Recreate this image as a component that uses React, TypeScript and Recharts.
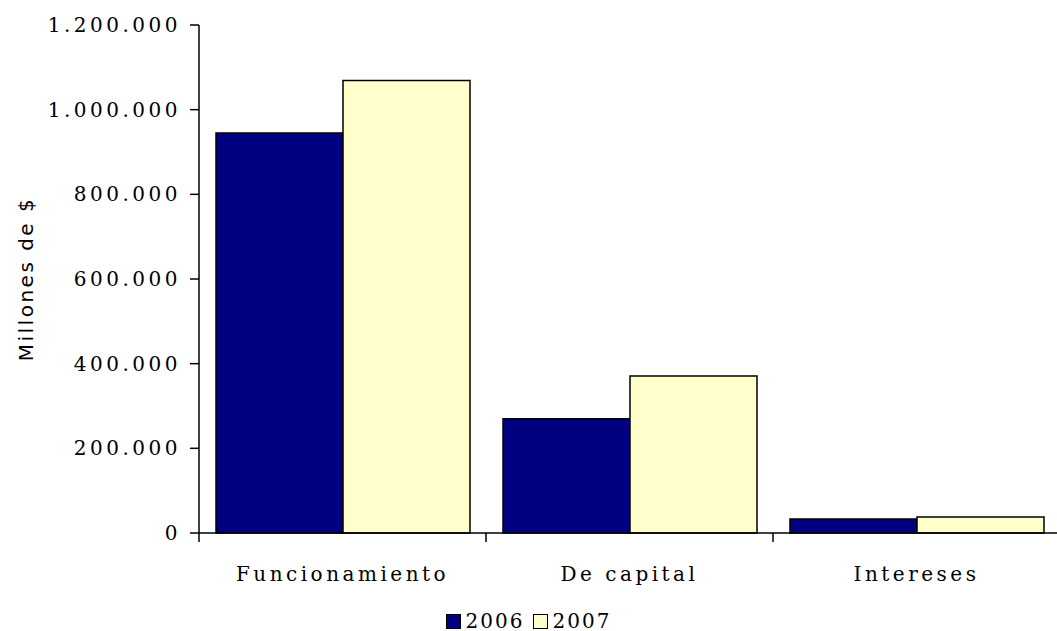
import { Bar, BarChart, XAxis, YAxis } from "recharts";

const categories = ["Funcionamiento", "De capital", "Intereses"];
const values2006 = [945000, 270000, 33000];
const values2007 = [1069000, 371000, 38000];
const yTicks = [0, 200000, 400000, 600000, 800000, 1000000, 1200000];

const data = categories.map((name, i) => ({ name, y2006: values2006[i], y2007: values2007[i] }));

const SERIF = "'DejaVu Serif', serif";
const NAVY = "#000080";
const CREAM = "#FFFFCC";

const W = 1057;
const H = 631;
const LEFT = 199;
const RIGHT_MARGIN = -3;
const BAND = (W - RIGHT_MARGIN - LEFT) / categories.length;

const fmt = (v: number) => v.toString().replace(/\B(?=(\d{3})+(?!\d))/g, ".");

function LegendBox() {
  const items = [
    { label: "2006", color: NAVY },
    { label: "2007", color: CREAM },
  ];
  return (
    <div
      style={{
        position: "absolute",
        top: 608,
        left: 0,
        width: W,
        display: "flex",
        justifyContent: "center",
        gap: 8,
        fontFamily: SERIF,
        fontSize: 20,
        letterSpacing: 2,
        color: "#000",
        lineHeight: "26px",
      }}
    >
      {items.map((it) => (
        <span key={it.label} style={{ display: "flex", alignItems: "center", gap: 5 }}>
          <span style={{ width: 13, height: 13, background: it.color, border: "1px solid #000", display: "inline-block" }} />
          {it.label}
        </span>
      ))}
    </div>
  );
}

// category label plus tick marks on the band boundaries
const CategoryTick = (props: any) => {
  const { x, y, payload, index } = props;
  const axisY = y - 34;
  const last = index === categories.length - 1;
  return (
    <g>
      <line x1={x - BAND / 2} x2={x - BAND / 2} y1={axisY} y2={axisY + 9} stroke="#000" strokeWidth={1.5} />
      {last && <line x1={x + BAND / 2} x2={x + BAND / 2} y1={axisY} y2={axisY + 9} stroke="#000" strokeWidth={1.5} />}
      <text x={x} y={y} dy="0.71em" textAnchor="middle" fontFamily={SERIF} fontSize={20} letterSpacing={3.5} fill="#000">
        {payload.value}
      </text>
    </g>
  );
};

export default function App() {
  return (
    <div style={{ position: "absolute", left: 0, top: 0, width: W, height: H, background: "#fff" }}>
      <BarChart
        width={W}
        height={H}
        data={data}
        margin={{ top: 25, right: RIGHT_MARGIN, left: 0, bottom: 0 }}
        barCategoryGap={17}
        barGap={0}
      >
        <XAxis
          dataKey="name"
          height={98}
          axisLine={{ stroke: "#000", strokeWidth: 1.5 }}
          tickLine={false}
          tickSize={0}
          tickMargin={34}
          tick={CategoryTick}
        />
        <YAxis
          width={LEFT}
          domain={[0, 1200000]}
          ticks={yTicks}
          tickFormatter={fmt}
          axisLine={{ stroke: "#000", strokeWidth: 1.5 }}
          tickLine={{ stroke: "#000", strokeWidth: 1.5 }}
          tickSize={9}
          tickMargin={9}
          tick={{ fontFamily: SERIF, fontSize: 20, fill: "#000", letterSpacing: 3.5 }}
          label={{
            value: "Millones de $",
            angle: -90,
            position: "insideLeft",
            offset: 26,
            style: { fontFamily: "'DejaVu Sans', sans-serif", fontSize: 20, fill: "#000", textAnchor: "middle", letterSpacing: 2.5 },
          }}
        />
        <Bar dataKey="y2006" name="2006" fill={NAVY} stroke="#000" strokeWidth={1.5} isAnimationActive={false} />
        <Bar dataKey="y2007" name="2007" fill={CREAM} stroke="#000" strokeWidth={1.5} isAnimationActive={false} />
      </BarChart>
      <LegendBox />
    </div>
  );
}
